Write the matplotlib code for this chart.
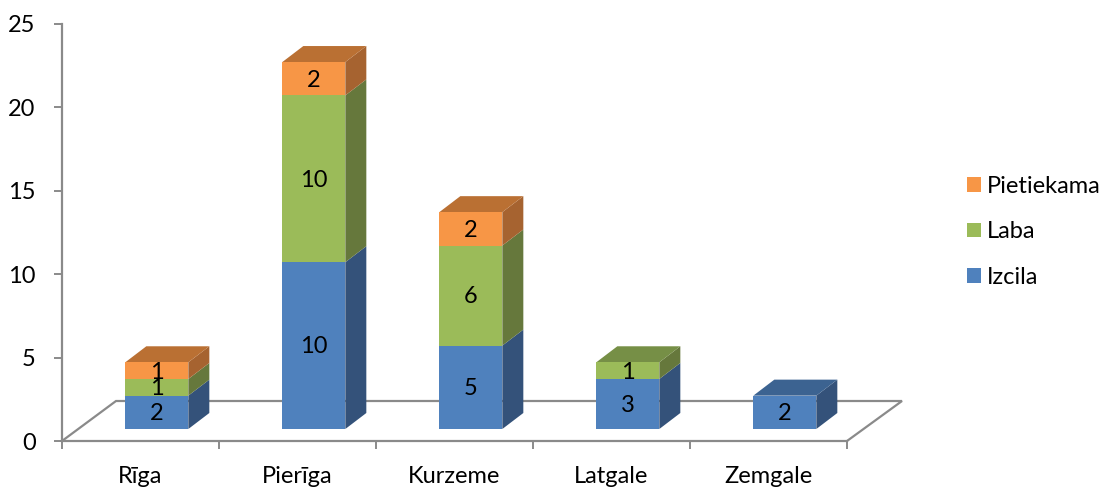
import matplotlib
matplotlib.use("Agg")
import numpy as np
import matplotlib.pyplot as plt
from matplotlib.patches import Patch

plt.rcParams["font.family"] = ["Lato", "DejaVu Sans"]

regions = ["Rīga", "Pierīga", "Kurzeme", "Latgale", "Zemgale"]
izcila = [2, 10, 5, 3, 2]
laba = [1, 10, 6, 1, 0]
pietiekama = [1, 2, 2, 0, 0]
y_ticks = [0, 5, 10, 15, 20, 25]

series_names = ["Izcila", "Laba", "Pietiekama"]
front_colors = ["#4F81BD", "#9BBB59", "#F79646"]
side_colors = ["#34527A", "#66783C", "#A66330"]
top_colors = ["#3C6391", "#768F46", "#BA7033"]

AXIS_COLOR = "#8A8A8A"
FONT_SIZE = 17
W, H = 1101, 488

fig = plt.figure(figsize=(W / 100, H / 100), dpi=100)
# plot area in pixels: x 62-847, y 24-441
ax = fig.add_axes([62 / W, 1 - 441 / H, 785 / W, 417 / H])
ax.set_xlim(0, 5)
ax.set_ylim(0, 25)
ax.patch.set_visible(False)

px_x = 5 / 785
px_y = 25 / 417
depth_x = 21 * px_x
depth_y = 16 * px_y
base_y = 12 * px_y
bar_w = 63 * px_x
bar_off = 0.604

# floor of the fake 3d box
floor_x = [0, 54 * px_x, 840 * px_x, 5]
floor_y = [0, 40 * px_y, 40 * px_y, 0]
ax.plot(floor_x, floor_y, color=AXIS_COLOR, lw=1.6, clip_on=False, zorder=1, solid_joinstyle="miter")

x = np.arange(len(regions)) + bar_off
bottom = np.zeros(len(regions)) + base_y

for vals, name, fc, sc, tc in zip([izcila, laba, pietiekama], series_names, front_colors, side_colors, top_colors):
    vals = np.array(vals)
    for xi, b, v in zip(x, bottom, vals):
        if v == 0:
            continue
        right = xi + bar_w / 2
        ax.fill([right, right + depth_x, right + depth_x, right],
                [b, b + depth_y, b + v + depth_y, b + v], color=sc, lw=0, zorder=3)
    ax.bar(x, vals, bar_w, bottom=bottom, color=fc, lw=0, zorder=4)
    for xi, b, v in zip(x, bottom, vals):
        if v == 0:
            continue
        ax.annotate(str(v), (xi, b + v / 2), xytext=(0, -1), textcoords="offset points",
                    ha="center", va="center", fontsize=FONT_SIZE, color="black", zorder=6)
    bottom = bottom + vals

# roof of each stack takes the colour of its highest segment
for i, xi in enumerate(x):
    top_idx = max(j for j, s in enumerate([izcila, laba, pietiekama]) if s[i] > 0)
    left = xi - bar_w / 2
    right = xi + bar_w / 2
    t = bottom[i]
    ax.fill([left, left + depth_x, right + depth_x, right],
            [t, t + depth_y, t + depth_y, t], color=top_colors[top_idx], lw=0, zorder=3)

for side in ["top", "right"]:
    ax.spines[side].set_visible(False)
for side in ["left", "bottom"]:
    ax.spines[side].set_color(AXIS_COLOR)
    ax.spines[side].set_linewidth(1.6)

ax.set_yticks(y_ticks)
ax.set_xticks(range(len(regions) + 1))
ax.set_xticklabels([""] * (len(regions) + 1))
ax.tick_params(axis="both", length=6, width=1.4, color=AXIS_COLOR, labelsize=FONT_SIZE, labelcolor="black")
ax.tick_params(axis="y", pad=13)

for i, name in enumerate(regions):
    ax.annotate(name, (i + 0.5, 0), xytext=(0, -18), textcoords="offset points",
                ha="center", va="top", fontsize=FONT_SIZE, color="black", annotation_clip=False)

handles = [Patch(color=c, lw=0) for c in front_colors[::-1]]
fig.legend(handles, series_names[::-1], loc="upper left", bbox_to_anchor=(967 / W, 1 - 176 / H),
           frameon=False, fontsize=FONT_SIZE, handlelength=0.59, handleheight=0.59,
           handletextpad=0.25, labelspacing=1.03, borderpad=0, borderaxespad=0)

fig.savefig("out.png", dpi=100)
